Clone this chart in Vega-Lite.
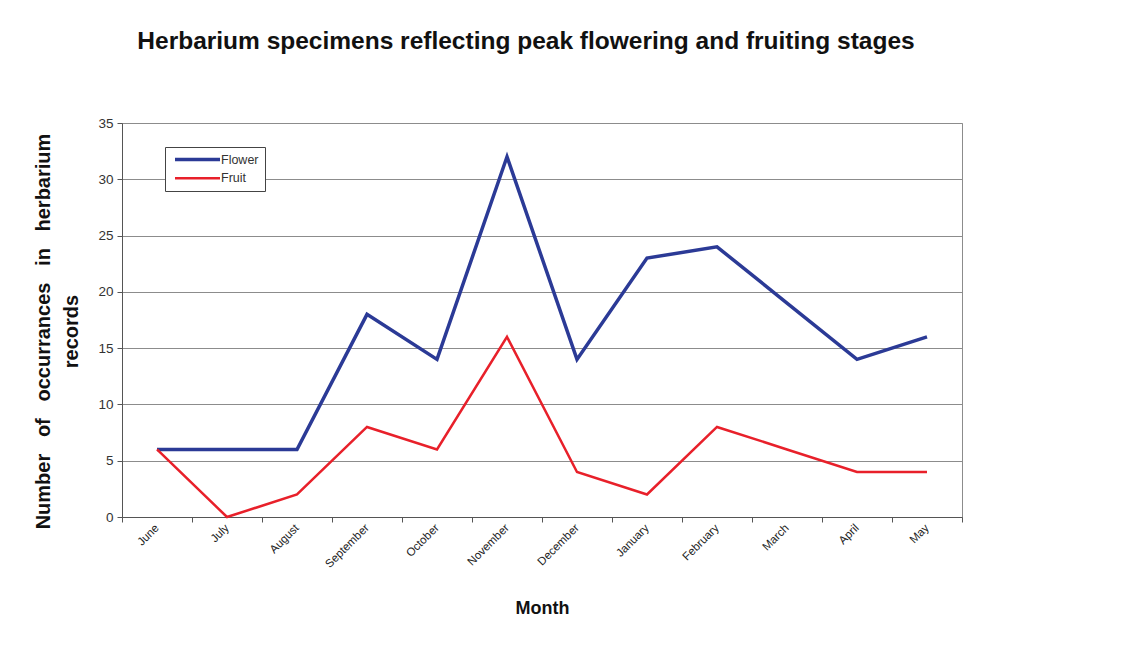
{
  "$schema": "https://vega.github.io/schema/vega-lite/v6.json",
  "width": 840,
  "height": 394,
  "autosize": {"type": "none"},
  "padding": {"left": 122, "top": 123, "right": 164, "bottom": 130},
  "background": "white",
  "title": {
    "text": "Herbarium specimens reflecting peak flowering and fruiting stages",
    "font": "Liberation Sans",
    "fontSize": 24.5,
    "fontWeight": "bold",
    "color": "#111",
    "anchor": "middle",
    "dx": -16,
    "offset": 62
  },
  "data": {
    "values": [
      {"month": "June", "series": "Flower", "value": 6},
      {"month": "July", "series": "Flower", "value": 6},
      {"month": "August", "series": "Flower", "value": 6},
      {"month": "September", "series": "Flower", "value": 18},
      {"month": "October", "series": "Flower", "value": 14},
      {"month": "November", "series": "Flower", "value": 32},
      {"month": "December", "series": "Flower", "value": 14},
      {"month": "January", "series": "Flower", "value": 23},
      {"month": "February", "series": "Flower", "value": 24},
      {"month": "March", "series": "Flower", "value": 19},
      {"month": "April", "series": "Flower", "value": 14},
      {"month": "May", "series": "Flower", "value": 16},
      {"month": "June", "series": "Fruit", "value": 6},
      {"month": "July", "series": "Fruit", "value": 0},
      {"month": "August", "series": "Fruit", "value": 2},
      {"month": "September", "series": "Fruit", "value": 8},
      {"month": "October", "series": "Fruit", "value": 6},
      {"month": "November", "series": "Fruit", "value": 16},
      {"month": "December", "series": "Fruit", "value": 4},
      {"month": "January", "series": "Fruit", "value": 2},
      {"month": "February", "series": "Fruit", "value": 8},
      {"month": "March", "series": "Fruit", "value": 6},
      {"month": "April", "series": "Fruit", "value": 4},
      {"month": "May", "series": "Fruit", "value": 4}
    ]
  },
  "mark": {"type": "line", "strokeJoin": "miter", "strokeCap": "butt"},
  "encoding": {
    "x": {
      "field": "month",
      "type": "nominal",
      "sort": ["June", "July", "August", "September", "October", "November", "December", "January", "February", "March", "April", "May"],
      "bandPosition": 0.5,
      "scale": {"type": "band", "paddingInner": 0, "paddingOuter": 0},
      "axis": {
        "title": "Month",
        "titleFont": "Liberation Sans",
        "titleFontSize": 18,
        "titleFontWeight": "bold",
        "titleColor": "#111",
        "titlePadding": 30,
        "tickBand": "extent",
        "grid": false,
        "labelAngle": -45,
        "labelAlign": "right",
        "labelBaseline": "middle",
        "labelFont": "Liberation Sans",
        "labelFontSize": 11.5,
        "labelColor": "#222",
        "labelPadding": 4,
        "domainColor": "#555",
        "tickColor": "#555",
        "tickSize": 5
      }
    },
    "y": {
      "field": "value",
      "type": "quantitative",
      "scale": {"domain": [0, 35]},
      "axis": {
        "title": ["Number\u00a0\u00a0 of\u00a0\u00a0 occurrances\u00a0\u00a0 in\u00a0\u00a0 herbarium", "records"],
        "titleFont": "Liberation Sans",
        "titleFontSize": 20,
        "titleFontWeight": "bold",
        "titleColor": "#111",
        "titleLineHeight": 28,
        "titlePadding": 16,
        "titleY": 208,
        "values": [0, 5, 10, 15, 20, 25, 30, 35],
        "grid": true,
        "gridColor": "#8c8c8c",
        "gridWidth": 1,
        "labelFont": "Liberation Sans",
        "labelFontSize": 13.5,
        "labelColor": "#333",
        "labelPadding": 4,
        "domainColor": "#555",
        "tickColor": "#555",
        "tickSize": 5
      }
    },
    "color": {
      "field": "series",
      "type": "nominal",
      "scale": {"domain": ["Flower", "Fruit"], "range": ["#2b3a96", "#e8202a"]},
      "legend": {
        "title": null,
        "orient": "none",
        "legendX": 43,
        "legendY": 24,
        "direction": "vertical",
        "symbolType": "M-5,0L5,0",
        "symbolSize": 81,
        "symbolOffset": 20,
        "labelFont": "Liberation Sans",
        "labelFontSize": 12.5,
        "labelColor": "#333",
        "labelOffset": 17,
        "rowPadding": 5,
        "strokeColor": "#444",
        "fillColor": "white",
        "padding": 6
      }
    },
    "strokeWidth": {
      "field": "series",
      "type": "nominal",
      "scale": {"domain": ["Flower", "Fruit"], "range": [3.5, 2.5]},
      "legend": {
        "title": null,
        "orient": "none",
        "legendX": 43,
        "legendY": 24,
        "direction": "vertical",
        "symbolType": "M-5,0L5,0",
        "symbolSize": 81,
        "symbolOffset": 20,
        "labelFont": "Liberation Sans",
        "labelFontSize": 12.5,
        "labelColor": "#333",
        "labelOffset": 17,
        "rowPadding": 5,
        "strokeColor": "#444",
        "fillColor": "white",
        "padding": 6
      }
    }
  },
  "config": {
    "view": {"stroke": "#8c8c8c", "strokeWidth": 1}
  }
}
